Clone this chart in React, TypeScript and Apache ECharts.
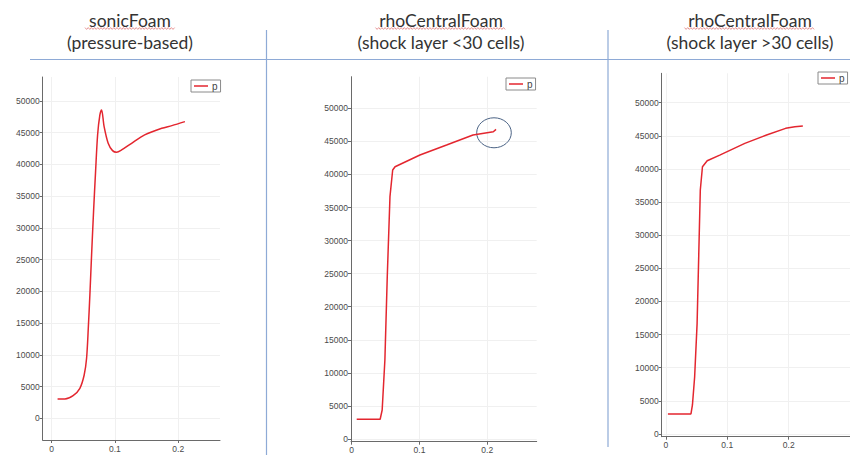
import React, { useEffect, useRef } from "react";
import * as echarts from "echarts";

// Panel headings (solver name, case description)
const solverNames = ["sonicFoam", "rhoCentralFoam", "rhoCentralFoam"];
const caseNotes = ["(pressure-based)", "(shock layer <30 cells)", "(shock layer >30 cells)"];

// Axis tick values
const xTickValues = [0, 0.1, 0.2];
const yTickValues = [0, 5000, 10000, 15000, 20000, 25000, 30000, 35000, 40000, 45000, 50000];

// sonicFoam pressure profile
const sonicX = [0.0095, 0.021, 0.034, 0.0447, 0.0515, 0.0553, 0.058, 0.0605, 0.0632, 0.0663, 0.0695, 0.0727, 0.0763, 0.079, 0.083, 0.0894, 0.0963, 0.1027, 0.1106, 0.1264, 0.147, 0.174, 0.19, 0.2106];
const sonicP = [3040, 3040, 3560, 4730, 6820, 9460, 14180, 19430, 25740, 32560, 38870, 44650, 47800, 48590, 45960, 43340, 42180, 41920, 42280, 43340, 44650, 45700, 46120, 46750];

// rhoCentralFoam, coarse shock layer
const coarseX = [0.0074, 0.042, 0.045, 0.049, 0.0525, 0.0565, 0.0605, 0.064, 0.1007, 0.14, 0.179, 0.209, 0.213];
const coarseP = [2980, 2980, 4380, 11950, 24540, 36640, 40670, 41170, 42940, 44450, 45960, 46460, 46820];

// rhoCentralFoam, fine shock layer
const fineX = [0.0035, 0.041, 0.0434, 0.047, 0.051, 0.0536, 0.0562, 0.0597, 0.0674, 0.0878, 0.1286, 0.164, 0.195, 0.21, 0.223];
const fineP = [3020, 3020, 4380, 8650, 16700, 26760, 36820, 40340, 41240, 42100, 43870, 45120, 46130, 46370, 46480];

const LINE_RED = "#e3262f";
const AXIS_GREY = "#6a6a6a";
const DIVIDER_BLUE = "#8eaad6";
const TITLE_FONT = "Lato";
const TICK_FONT = "Liberation Sans";

const zip = (xs: number[], ys: number[]) => xs.map((x, i) => [x, ys[i]]);

const panels = [
  { grid: { left: 42.7, top: 77, width: 177.3, height: 363 }, x: [-0.014, 0.266], y: [-3420, 53780], legend: { left: 191, top: 80 }, titleX: 130 },
  { grid: { left: 351, top: 76.7, width: 185.7, height: 365 }, x: [-0.001, 0.273], y: [-410, 54780], legend: { left: 506, top: 78 }, titleX: 441 },
  { grid: { left: 661.7, top: 73.3, width: 200, height: 363.4 }, x: [-0.0066, 0.2997], y: [-407, 54440], legend: { left: 818, top: 72 }, titleX: 750 },
];

const seriesData = [zip(sonicX, sonicP), zip(coarseX, coarseP), zip(fineX, fineP)];

// Red spell-check squiggle under a heading word
function squiggle(x0: number, x1: number, y: number) {
  const pts: number[][] = [];
  let up = true;
  for (let x = x0; x <= x1; x += 1.6) {
    pts.push([x, up ? y - 0.9 : y + 0.9]);
    up = !up;
  }
  return {
    type: "polyline",
    shape: { points: pts },
    style: { stroke: "#e07a7a", lineWidth: 0.8, fill: null },
    silent: true,
  };
}

export default function App() {
  const ref = useRef<HTMLDivElement>(null);

  useEffect(() => {
    if (!ref.current) return;
    const chart = echarts.init(ref.current, undefined, { renderer: "svg" });

    const axisLabelStyle = { color: "#4a4a4a", fontSize: 8.5, fontFamily: TICK_FONT };

    const option: any = {
      animation: false,
      backgroundColor: "#ffffff",
      grid: panels.map((p) => ({ ...p.grid, containLabel: false })),
      xAxis: panels.map((p, i) => ({
        type: "value",
        gridIndex: i,
        min: p.x[0],
        max: p.x[1],
        axisLine: { show: true, onZero: false, lineStyle: { color: AXIS_GREY, width: 1 } },
        axisTick: { show: true, length: 3, customValues: xTickValues, lineStyle: { color: AXIS_GREY } },
        axisLabel: { ...axisLabelStyle, margin: 4, customValues: xTickValues, formatter: (v: number) => (v === 0 ? "0" : String(Math.round(v * 10) / 10)) },
        splitLine: { show: true, lineStyle: { color: "#f0f0f0", width: 1 } },
      })),
      yAxis: panels.map((p, i) => ({
        type: "value",
        gridIndex: i,
        min: p.y[0],
        max: p.y[1],
        axisLine: { show: true, onZero: false, lineStyle: { color: AXIS_GREY, width: 1 } },
        axisTick: { show: true, length: 3, customValues: yTickValues, lineStyle: { color: AXIS_GREY } },
        axisLabel: { ...axisLabelStyle, margin: 3, customValues: yTickValues, formatter: (v: number) => String(Math.round(v)) },
        splitLine: { show: true, lineStyle: { color: "#f0f0f0", width: 1 } },
      })),
      legend: panels.map((p) => ({
        left: p.legend.left,
        top: p.legend.top,
        data: ["p"],
        icon: "rect",
        itemWidth: 14,
        itemHeight: 1.5,
        itemGap: 0,
        padding: [1, 3, 1, 3],
        borderColor: "#8a8a8a",
        borderWidth: 1,
        borderRadius: 0,
        selectedMode: false,
        textStyle: { fontSize: 10, color: "#444", fontFamily: TICK_FONT, padding: [0, 0, 0, -1] },
      })),
      series: seriesData.map((d, i) => ({
        name: "p",
        type: "line",
        xAxisIndex: i,
        yAxisIndex: i,
        data: d,
        showSymbol: false,
        smooth: i === 0 ? 0.3 : false,
        color: LINE_RED,
        lineStyle: { color: LINE_RED, width: 1.5 },
        silent: true,
      })),
    };

    chart.setOption(option);

    // Headings, separators and the annotation ring around the end of the coarse profile
    const headingWidth = [90, 131, 131];
    const graphics: any[] = [
      { type: "line", shape: { x1: 30, y1: 59.5, x2: 850, y2: 59.5 }, style: { stroke: DIVIDER_BLUE, lineWidth: 1.2 }, silent: true },
      { type: "line", shape: { x1: 266.5, y1: 30, x2: 266.5, y2: 455 }, style: { stroke: DIVIDER_BLUE, lineWidth: 1.2 }, silent: true },
      { type: "line", shape: { x1: 608, y1: 30, x2: 608, y2: 447 }, style: { stroke: DIVIDER_BLUE, lineWidth: 1.2 }, silent: true },
    ];
    panels.forEach((p, i) => {
      graphics.push({
        type: "text",
        x: p.titleX,
        y: 20,
        style: { text: solverNames[i], font: `17.5px ${TITLE_FONT}`, fill: "#333333", align: "center", verticalAlign: "middle" },
        silent: true,
      });
      graphics.push({
        type: "text",
        x: p.titleX,
        y: 42,
        style: { text: caseNotes[i], font: `17.5px ${TITLE_FONT}`, fill: "#333333", align: "center", verticalAlign: "middle" },
        silent: true,
      });
      graphics.push(squiggle(p.titleX - headingWidth[i] / 2, p.titleX + headingWidth[i] / 2, 28.5));
    });

    const ringCenter = chart.convertToPixel({ gridIndex: 1 }, [0.21, 46300]) as number[];
    graphics.push({
      type: "ellipse",
      shape: { cx: ringCenter[0], cy: ringCenter[1], rx: 17.3, ry: 15 },
      style: { stroke: "#4b6385", lineWidth: 1, fill: null },
      silent: true,
    });

    chart.setOption({ graphic: graphics });

    return () => chart.dispose();
  }, []);

  return <div ref={ref} style={{ position: "absolute", left: 0, top: 0, width: 850, height: 455 }} />;
}
